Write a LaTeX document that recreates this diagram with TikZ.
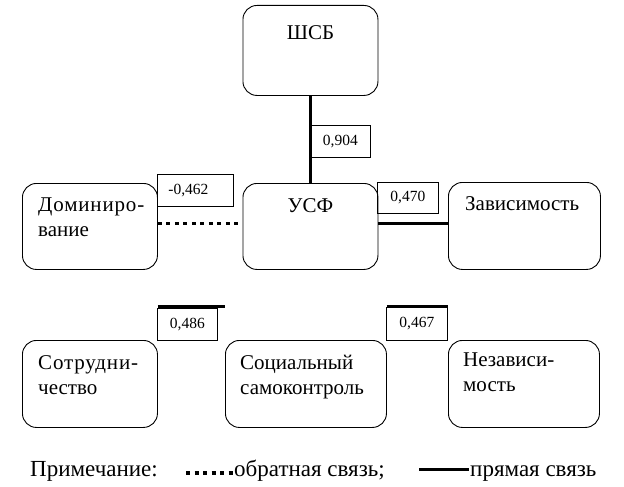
\documentclass[tikz,border=0pt]{standalone}
\usepackage{fontspec}
\setmainfont{Liberation Serif}
\usetikzlibrary{calc}
\begin{document}
\begin{tikzpicture}[x=1pt,y=-1pt,
 box/.style={draw,line width=0.9pt,rounded corners=14pt,inner sep=0pt,anchor=north west},
 lab/.style={anchor=north west,inner sep=0pt,align=left,font=\fontsize{21}{25}\selectfont},
 val/.style={draw,line width=0.8pt,inner sep=0pt,anchor=north west,font=\fontsize{15.5}{17}\selectfont},
 strong/.style={line width=3pt},
 weak/.style={line width=3.5pt,dash pattern=on 4pt off 4.5pt},
 legend/.style={anchor=base west,inner sep=0pt,font=\fontsize{23}{26}\selectfont}]
\useasboundingbox (0,0) rectangle (624,487);
% boxes
\node[box,minimum width=135pt,minimum height=90pt] (shsb) at (242.5,5) {};
\node[box,minimum width=135pt,minimum height=86pt] (dom) at (22,183) {};
\node[box,minimum width=135pt,minimum height=86pt] (usf) at (242.5,183) {};
\node[box,minimum width=152pt,minimum height=87pt] (zav) at (448,182) {};
\node[box,minimum width=135pt,minimum height=87pt] (sotr) at (22,340) {};
\node[box,minimum width=161pt,minimum height=87pt] (soc) at (225,340) {};
\node[box,minimum width=151pt,minimum height=87pt] (nez) at (448,340) {};
% texts
\node[lab,anchor=north] (tshsb) at ($(shsb.north)+(0,20)$) {ШСБ};
\node[lab,anchor=north] (tusf) at ($(usf.north)+(0,15)$) {УСФ};
\node[lab] (tdom) at ($(dom.north west)+(16,15)$) {{\addfontfeature{LetterSpace=4}Доминиро-}\\вание};
\node[lab] (tzav) at ($(zav.north west)+(17,14)$) {Зависимость};
\node[lab] (tsotr) at ($(sotr.north west)+(16,15)$) {{\addfontfeature{LetterSpace=4}Сотрудни-}\\чество};
\node[lab] (tsoc) at ($(soc.north west)+(15,15)$) {Социальный\\самоконтроль};
\node[lab] (tnez) at ($(nez.north west)+(15,13)$) {Независи-\\мость};
% value boxes
\node[val,minimum width=60pt,minimum height=32pt] (v904) at (310,125) {0,904};
\node[val,minimum height=32pt,text width=54pt,align=left,inner xsep=11pt] (v462) at (157,174) {-0,462};
\node[val,minimum width=61pt,minimum height=31pt] (v470) at (377,182) {0,470};
\node[val,minimum width=60pt,minimum height=32pt] (v486) at (157,308) {0,486};
\node[val,minimum width=61pt,minimum height=33pt] (v467) at (386,307) {0,467};
% connectors
\draw[strong] (shsb.south) -- (usf.north);
\draw[weak] ([yshift=3pt]dom.east) -- ([yshift=3pt]dom.east -| usf.west);
\draw[strong] ([yshift=3pt]usf.east) -- ([yshift=3pt]usf.east -| zav.west);
\coordinate (a1) at ($(v486.north -| sotr.east)+(0,-1.5)$);
\coordinate (a2) at ($(v486.north -| soc.west)+(0,-1.5)$);
\draw[strong] (a1) -- (a2);
\coordinate (b1) at ($(v467.north -| soc.east)+(0,-1)$);
\coordinate (b2) at ($(v467.north -| nez.west)+(0,-1)$);
\draw[line width=2.5pt] (b1) -- (b2);
% legend
\node[legend] (note) at (30,476) {Примечание:};
\coordinate (d1) at (186,473);
\coordinate (d2) at (233,473);
\draw[weak] (d1) -- (d2);
\node[legend] (tweak) at (234,476) {обратная связь;};
\coordinate (s1) at (419,469);
\coordinate (s2) at (469,469);
\draw[strong] (s1) -- (s2);
\node[legend] (tstrong) at (470,476) {прямая связь};
\end{tikzpicture}
\end{document}
